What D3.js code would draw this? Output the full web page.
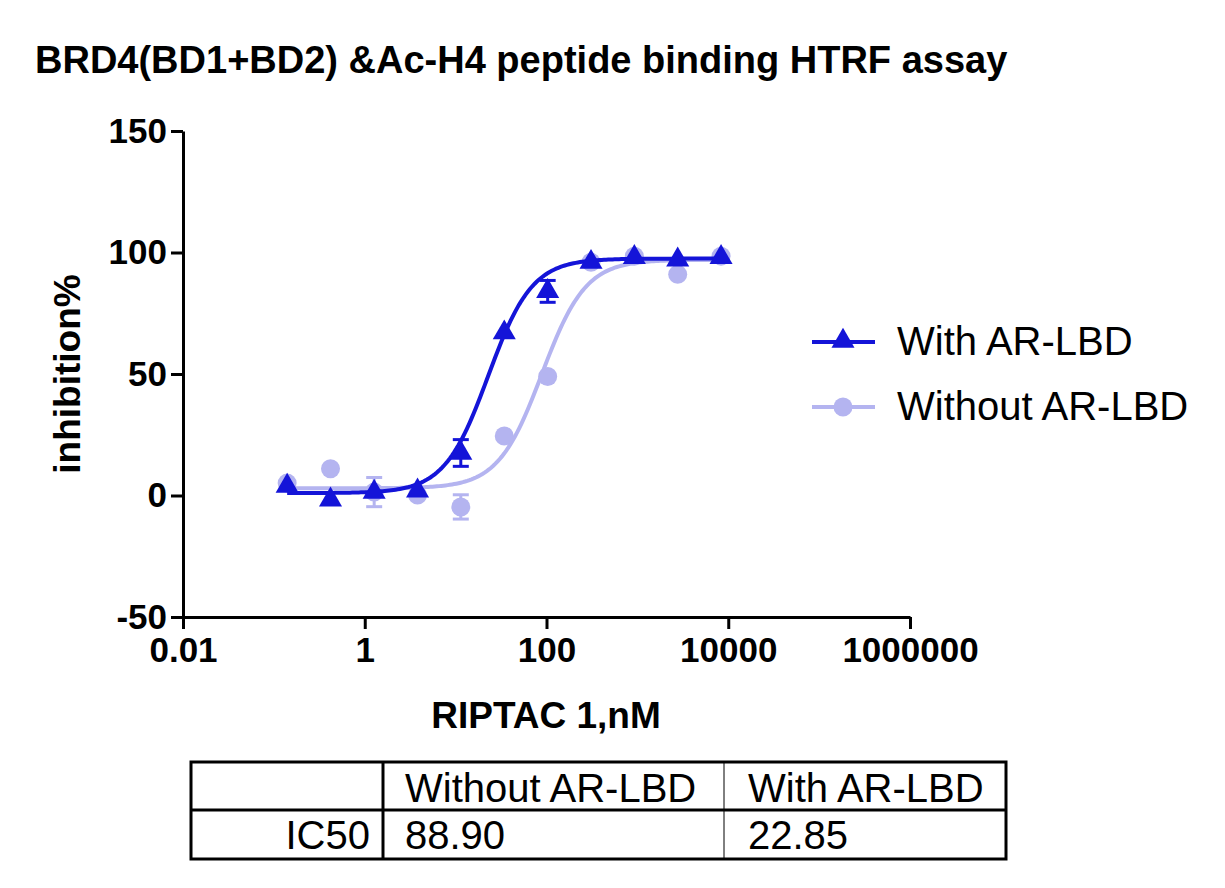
<!DOCTYPE html>
<html><head><meta charset="utf-8">
<script src="https://cdn.jsdelivr.net/npm/d3@7"></script>
<style>body{margin:0;background:#fff}text{font-family:Arial,"Liberation Sans",sans-serif}</style>
</head><body><svg id="c" width="1225" height="888"></svg>
<script>
const conc = [0.14, 0.42, 1.27, 3.81, 11.4, 34.3, 103, 309, 926, 2778, 8333];
const withAR = [3.9, -1.8, 1.4, 1.9, 17.5, 67, 84, 96, 98, 97, 98];
const withErr = [0, 0, 0, 0, 5.5, 0, 4.5, 0, 0, 0, 0];
const withoutAR = [5.1, 11, 1.4, 0.2, -4.7, 24.5, 49, 96, 98.5, 91, 98.5];
const withoutErr = [0, 0, 6, 0, 5, 0, 0, 0, 0, 0, 0];
// 4PL fit parameters: bottom, top, IC50, hill
const fitWith = [1, 97.5, 22.85, 1.8];
const fitWithout = [3, 97, 88.9, 1.8];
const xTicks = [0.01, 1, 100, 10000, 1000000];
const yTicks = [-50, 0, 50, 100, 150];

const svg = d3.select("#c");
const x = d3.scaleLog().domain([0.01, 1e6]).range([183, 910]);
const y = d3.scaleLinear().domain([-50, 150]).range([617, 131]);
const cWith = "#1414d8", cWithout = "#b4b4f0";

svg.append("text").attr("x", 35).attr("y", 73).attr("font-size", 38).attr("font-weight", "bold")
  .text("BRD4(BD1+BD2) &Ac-H4 peptide binding HTRF assay");

const ya = svg.append("g").attr("transform", "translate(183,0)")
  .call(d3.axisLeft(y).tickValues(yTicks).tickSize(12).tickSizeOuter(0).tickFormat(d => String(d)));
const xa = svg.append("g").attr("transform", "translate(0,617)")
  .call(d3.axisBottom(x).tickValues(xTicks).tickSize(12).tickSizeOuter(0).tickFormat(d => String(d)));
[ya, xa].forEach(a => {
  a.selectAll("path,line").attr("stroke", "#000").attr("stroke-width", 3);
  a.selectAll("text").attr("font-size", 35).attr("font-weight", "bold").attr("fill", "#000");
});
ya.selectAll("text").attr("x", -16);
xa.selectAll("text").attr("y", 20);

svg.append("text").attr("x", 546).attr("y", 728).attr("text-anchor", "middle")
  .attr("font-size", 37).attr("font-weight", "bold").text("RIPTAC 1,nM");
svg.append("text").attr("transform", "translate(80,374) rotate(-90)").attr("text-anchor", "middle")
  .attr("font-size", 37).attr("font-weight", "bold").text("inhibition%");

function curve(p, color) {
  const xs = d3.range(0, 201).map(i => Math.pow(10, Math.log10(0.14) + i / 200 * (Math.log10(8333) - Math.log10(0.14))));
  const f = c => p[0] + (p[1] - p[0]) / (1 + Math.pow(p[2] / c, p[3]));
  svg.append("path").datum(xs).attr("fill", "none").attr("stroke", color).attr("stroke-width", 4)
    .attr("d", d3.line().x(c => x(c)).y(c => y(f(c))));
}
function errs(vals, err, color) {
  const g = svg.append("g").attr("stroke", color).attr("stroke-width", 3);
  conc.forEach((c, i) => {
    if (!err[i]) return;
    g.append("line").attr("x1", x(c)).attr("x2", x(c)).attr("y1", y(vals[i] - err[i])).attr("y2", y(vals[i] + err[i]));
    [-1, 1].forEach(s => g.append("line").attr("x1", x(c) - 8).attr("x2", x(c) + 8)
      .attr("y1", y(vals[i] + s * err[i])).attr("y2", y(vals[i] + s * err[i])));
  });
}
curve(fitWithout, cWithout);
errs(withoutAR, withoutErr, cWithout);
svg.append("g").selectAll("circle").data(conc).join("circle")
  .attr("cx", d => x(d)).attr("cy", (d, i) => y(withoutAR[i])).attr("r", 9.5).attr("fill", cWithout);
curve(fitWith, cWith);
errs(withAR, withErr, cWith);
const tri = d3.symbol().type(d3.symbolTriangle).size(230);
svg.append("g").selectAll("path").data(conc).join("path")
  .attr("transform", (d, i) => `translate(${x(d)},${y(withAR[i])})`).attr("d", tri).attr("fill", cWith);

// legend
const lg = svg.append("g");
lg.append("line").attr("x1", 812).attr("x2", 875).attr("y1", 342).attr("y2", 342).attr("stroke", cWith).attr("stroke-width", 4);
lg.append("path").attr("transform", "translate(843,341)").attr("d", tri).attr("fill", cWith);
lg.append("text").attr("x", 897).attr("y", 355).attr("font-size", 40).text("With AR-LBD");
lg.append("line").attr("x1", 812).attr("x2", 875).attr("y1", 407).attr("y2", 407).attr("stroke", cWithout).attr("stroke-width", 4);
lg.append("circle").attr("cx", 843).attr("cy", 407).attr("r", 9.5).attr("fill", cWithout);
lg.append("text").attr("x", 897).attr("y", 420).attr("font-size", 40).text("Without AR-LBD");

// table
const t = svg.append("g");
t.append("rect").attr("x", 191).attr("y", 762).attr("width", 815).attr("height", 97)
  .attr("fill", "none").attr("stroke", "#000").attr("stroke-width", 3);
t.append("line").attr("x1", 191).attr("x2", 1006).attr("y1", 810).attr("y2", 810).attr("stroke", "#000").attr("stroke-width", 3);
t.append("line").attr("x1", 383).attr("x2", 383).attr("y1", 762).attr("y2", 859).attr("stroke", "#000").attr("stroke-width", 3);
t.append("line").attr("x1", 724).attr("x2", 724).attr("y1", 762).attr("y2", 859).attr("stroke", "#000").attr("stroke-width", 1);
const cells = [["Without AR-LBD", 405, 802], ["With AR-LBD", 748, 802], ["88.90", 405, 849], ["22.85", 748, 849]];
cells.forEach(c => t.append("text").attr("x", c[1]).attr("y", c[2]).attr("font-size", 40).text(c[0]));
t.append("text").attr("x", 370).attr("y", 849).attr("text-anchor", "end").attr("font-size", 40).text("IC50");
</script></body></html>
